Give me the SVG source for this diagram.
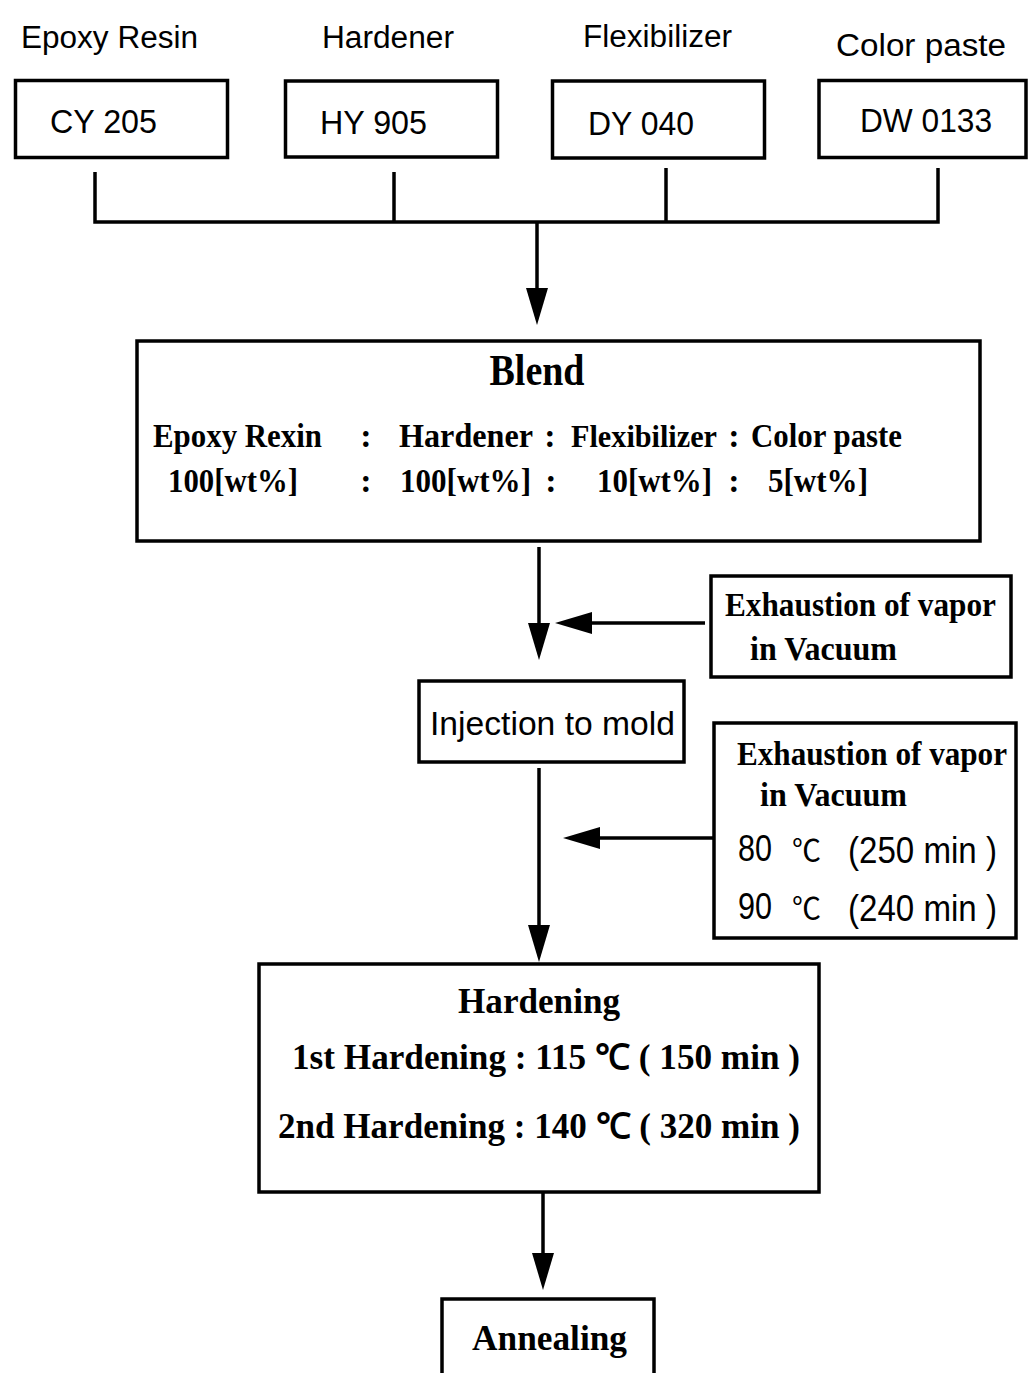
<svg xmlns="http://www.w3.org/2000/svg" width="1028" height="1373" viewBox="0 0 1028 1373">
<style>
.box{fill:none;stroke:#000;stroke-width:3.5}
.ln{fill:none;stroke:#000;stroke-width:3.5}
.sans{font-family:"Liberation Sans",Arial,"Noto Sans CJK KR",sans-serif;fill:#000}
.serif{font-family:"Liberation Serif","Times New Roman",serif;font-weight:bold;fill:#000}
.deg{font-family:"Noto Sans CJK KR","DejaVu Sans",sans-serif;fill:#000}
</style>
<defs>
<marker id="ah" markerUnits="userSpaceOnUse" markerWidth="40" markerHeight="24" refX="4" refY="11" orient="auto">
<path d="M0,0 L37,11 L0,22 z" fill="#000"/>
</marker>
</defs>
<rect width="1028" height="1373" fill="#fff"/>

<g id="label-epoxy"><text class="sans" x="21" y="48" font-size="31" textLength="177" lengthAdjust="spacingAndGlyphs">Epoxy Resin</text></g>
<g id="label-hardener"><text class="sans" x="322" y="48" font-size="31" textLength="132" lengthAdjust="spacingAndGlyphs">Hardener</text></g>
<g id="label-flex"><text class="sans" x="583" y="47" font-size="31" textLength="149" lengthAdjust="spacingAndGlyphs">Flexibilizer</text></g>
<g id="label-color"><text class="sans" x="836" y="56" font-size="31" textLength="170" lengthAdjust="spacingAndGlyphs">Color paste</text></g>

<g id="cy205"><rect class="box" x="15.5" y="80.5" width="212" height="77"/><text class="sans" x="50" y="133" font-size="33" textLength="107" lengthAdjust="spacingAndGlyphs">CY 205</text></g>
<g id="hy905"><rect class="box" x="285.5" y="81" width="212" height="76"/><text class="sans" x="320" y="134" font-size="33" textLength="107" lengthAdjust="spacingAndGlyphs">HY 905</text></g>
<g id="dy040"><rect class="box" x="552.5" y="81" width="212" height="77"/><text class="sans" x="588" y="135" font-size="33" textLength="106" lengthAdjust="spacingAndGlyphs">DY 040</text></g>
<g id="dw0133"><rect class="box" x="819" y="80.5" width="207" height="77"/><text class="sans" x="860" y="132" font-size="33" textLength="132" lengthAdjust="spacingAndGlyphs">DW 0133</text></g>

<g id="blend">
<rect class="box" x="137" y="341" width="843" height="200"/>
<text class="serif" x="537" y="385" font-size="44" text-anchor="middle" textLength="95" lengthAdjust="spacingAndGlyphs">Blend</text>
<text class="serif" x="153" y="447" font-size="34" textLength="169" lengthAdjust="spacingAndGlyphs">Epoxy Rexin</text>
<text class="serif" x="366" y="447" font-size="34" text-anchor="middle">:</text>
<text class="serif" x="399" y="447" font-size="34" textLength="134" lengthAdjust="spacingAndGlyphs">Hardener</text>
<text class="serif" x="550" y="447" font-size="34" text-anchor="middle">:</text>
<text class="serif" x="571" y="447" font-size="32" textLength="146" lengthAdjust="spacingAndGlyphs">Flexibilizer</text>
<text class="serif" x="734" y="447" font-size="34" text-anchor="middle">:</text>
<text class="serif" x="751" y="447" font-size="34" textLength="151" lengthAdjust="spacingAndGlyphs">Color paste</text>
<text class="serif" x="168" y="492" font-size="34" textLength="130" lengthAdjust="spacingAndGlyphs">100[wt%]</text>
<text class="serif" x="366" y="492" font-size="34" text-anchor="middle">:</text>
<text class="serif" x="400" y="492" font-size="34" textLength="131" lengthAdjust="spacingAndGlyphs">100[wt%]</text>
<text class="serif" x="551" y="492" font-size="34" text-anchor="middle">:</text>
<text class="serif" x="597" y="492" font-size="34" textLength="115" lengthAdjust="spacingAndGlyphs">10[wt%]</text>
<text class="serif" x="734" y="492" font-size="34" text-anchor="middle">:</text>
<text class="serif" x="768" y="492" font-size="34" textLength="100" lengthAdjust="spacingAndGlyphs">5[wt%]</text>
</g>

<g id="exhaust1">
<rect class="box" x="711" y="576" width="300" height="101"/>
<text class="serif" x="725" y="616" font-size="33" textLength="271" lengthAdjust="spacingAndGlyphs">Exhaustion of vapor</text>
<text class="serif" x="750" y="660" font-size="33" textLength="147" lengthAdjust="spacingAndGlyphs">in Vacuum</text>
</g>

<g id="injection">
<rect class="box" x="419" y="681" width="265" height="81"/>
<text class="sans" x="430" y="735" font-size="34" textLength="245" lengthAdjust="spacingAndGlyphs">Injection to mold</text>
</g>

<g id="exhaust2">
<rect class="box" x="714" y="723" width="302" height="215"/>
<text class="serif" x="737" y="765" font-size="33" textLength="270" lengthAdjust="spacingAndGlyphs">Exhaustion of vapor</text>
<text class="serif" x="760" y="806" font-size="33" textLength="147" lengthAdjust="spacingAndGlyphs">in Vacuum</text>
<text class="sans" x="738" y="861" font-size="36" textLength="34" lengthAdjust="spacingAndGlyphs">80</text>
<text class="deg" x="792" y="861" font-size="30" textLength="29" lengthAdjust="spacingAndGlyphs">℃</text>
<text class="sans" x="848" y="863" font-size="36" textLength="149" lengthAdjust="spacingAndGlyphs">(250 min )</text>
<text class="sans" x="738" y="919" font-size="36" textLength="34" lengthAdjust="spacingAndGlyphs">90</text>
<text class="deg" x="792" y="919" font-size="30" textLength="29" lengthAdjust="spacingAndGlyphs">℃</text>
<text class="sans" x="848" y="921" font-size="36" textLength="149" lengthAdjust="spacingAndGlyphs">(240 min )</text>
</g>

<g id="hardening">
<rect class="box" x="259" y="964" width="560" height="228"/>
<text class="serif" x="458" y="1013" font-size="35" textLength="162" lengthAdjust="spacingAndGlyphs">Hardening</text>
<text class="serif" x="292" y="1069" font-size="35" textLength="508" lengthAdjust="spacingAndGlyphs">1st Hardening : 115 ℃ ( 150 min )</text>
<text class="serif" x="278" y="1138" font-size="35" textLength="522" lengthAdjust="spacingAndGlyphs">2nd Hardening : 140 ℃ ( 320 min )</text>
</g>

<g id="annealing">
<rect class="box" x="442" y="1299" width="212" height="90"/>
<text class="serif" x="472" y="1350" font-size="36" textLength="155" lengthAdjust="spacingAndGlyphs">Annealing</text>
</g>

<g id="connectors">
<polyline class="ln" points="95,172 95,222 938,222 938,168"/>
<line class="ln" x1="394" y1="172" x2="394" y2="222"/>
<line class="ln" x1="666" y1="168" x2="666" y2="222"/>
<line class="ln" x1="537" y1="222" x2="537" y2="292" marker-end="url(#ah)"/>
<line class="ln" x1="539" y1="547" x2="539" y2="627" marker-end="url(#ah)"/>
<line class="ln" x1="705" y1="623" x2="588" y2="623" marker-end="url(#ah)"/>
<line class="ln" x1="539" y1="768" x2="539" y2="929" marker-end="url(#ah)"/>
<line class="ln" x1="713" y1="838" x2="596" y2="838" marker-end="url(#ah)"/>
<line class="ln" x1="543" y1="1193" x2="543" y2="1257" marker-end="url(#ah)"/>
</g>
</svg>
